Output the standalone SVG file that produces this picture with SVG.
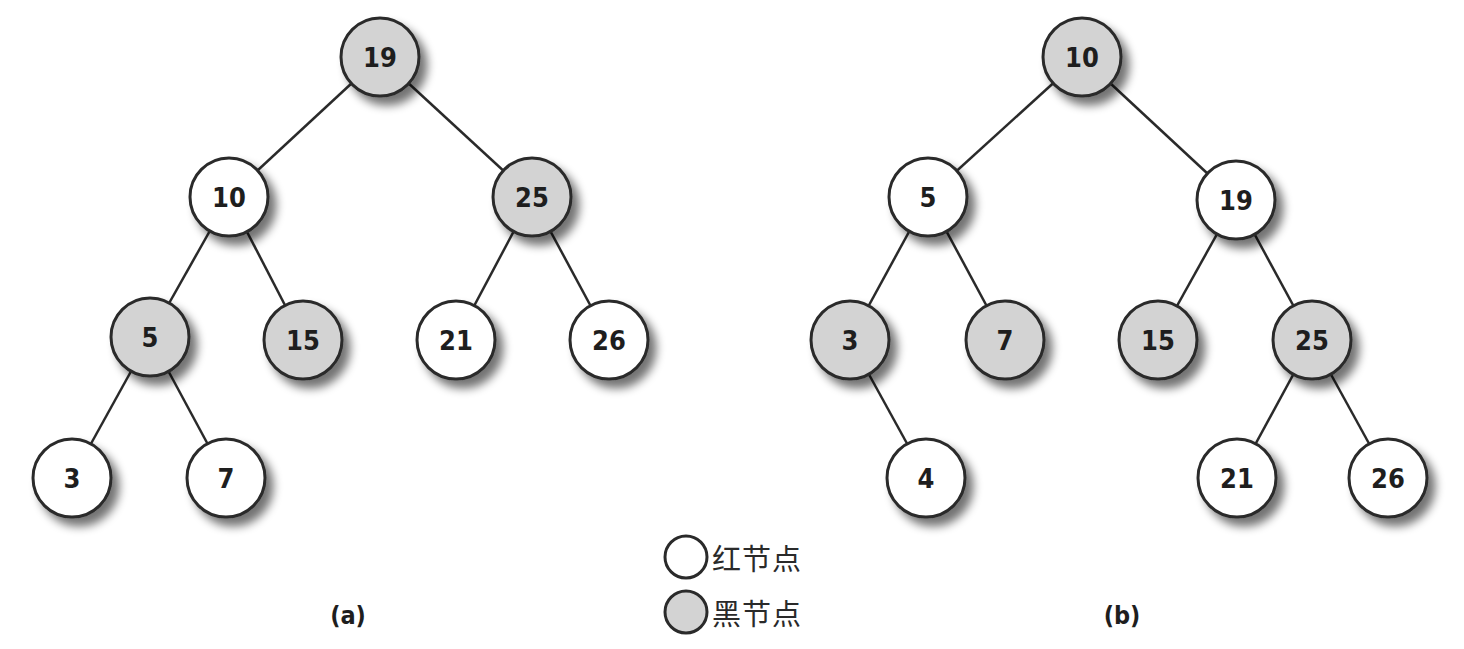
<svg xmlns="http://www.w3.org/2000/svg" width="1464" height="649" viewBox="0 0 1464 649">
<defs>
<filter id="sh" x="-30%" y="-30%" width="170%" height="170%">
<feGaussianBlur in="SourceAlpha" stdDeviation="5"/>
<feOffset dx="7" dy="8" result="b"/>
<feComponentTransfer><feFuncA type="linear" slope="0.55"/></feComponentTransfer>
<feMerge><feMergeNode/><feMergeNode in="SourceGraphic"/></feMerge>
</filter>
</defs>
<style>
.e{stroke:#2a2a2a;stroke-width:2.5;fill:none}
.n circle{stroke:#2a2a2a;stroke-width:3;filter:url(#sh)}
.r circle{fill:#ffffff}
.b circle{fill:#d3d3d3}
.n text{font-family:"Liberation Sans Narrow","DejaVu Sans Condensed","DejaVu Sans",sans-serif;font-weight:bold;font-size:27px;fill:#1e1e1e;text-anchor:middle;dominant-baseline:central}
.lbl{font-family:"Liberation Sans Narrow","DejaVu Sans Condensed","DejaVu Sans",sans-serif;font-weight:bold;font-size:25px;fill:#1e1e1e;text-anchor:middle}
.lg circle{stroke:#2a2a2a;stroke-width:3}
.lg text{font-family:"Noto Sans CJK SC",sans-serif;font-size:29px;fill:#2a2a2a;dominant-baseline:central;letter-spacing:1px}
</style>
<g id="connectors">
<line class="e" x1="380" y1="57" x2="229" y2="197"/>
<line class="e" x1="380" y1="57" x2="532" y2="197"/>
<line class="e" x1="229" y1="197" x2="150" y2="337"/>
<line class="e" x1="229" y1="197" x2="303" y2="340"/>
<line class="e" x1="532" y1="197" x2="456" y2="340"/>
<line class="e" x1="532" y1="197" x2="609" y2="340"/>
<line class="e" x1="150" y1="337" x2="72" y2="478"/>
<line class="e" x1="150" y1="337" x2="226" y2="478"/>
<line class="e" x1="1082" y1="57" x2="928" y2="197"/>
<line class="e" x1="1082" y1="57" x2="1236" y2="200"/>
<line class="e" x1="928" y1="197" x2="850" y2="340"/>
<line class="e" x1="928" y1="197" x2="1005" y2="340"/>
<line class="e" x1="1236" y1="200" x2="1158" y2="340"/>
<line class="e" x1="1236" y1="200" x2="1312" y2="340"/>
<line class="e" x1="850" y1="340" x2="926" y2="478"/>
<line class="e" x1="1312" y1="340" x2="1237" y2="478"/>
<line class="e" x1="1312" y1="340" x2="1388" y2="478"/>
</g>
<g id="a19" class="n b"><circle cx="380" cy="57" r="39"/><text x="380" y="57">19</text></g>
<g id="a10" class="n r"><circle cx="229" cy="197" r="39"/><text x="229" y="197">10</text></g>
<g id="a25" class="n b"><circle cx="532" cy="197" r="39"/><text x="532" y="197">25</text></g>
<g id="a5" class="n b"><circle cx="150" cy="337" r="39"/><text x="150" y="337">5</text></g>
<g id="a15" class="n b"><circle cx="303" cy="340" r="39"/><text x="303" y="340">15</text></g>
<g id="a21" class="n r"><circle cx="456" cy="340" r="39"/><text x="456" y="340">21</text></g>
<g id="a26" class="n r"><circle cx="609" cy="340" r="39"/><text x="609" y="340">26</text></g>
<g id="a3" class="n r"><circle cx="72" cy="478" r="39"/><text x="72" y="478">3</text></g>
<g id="a7" class="n r"><circle cx="226" cy="478" r="39"/><text x="226" y="478">7</text></g>
<g id="b10" class="n b"><circle cx="1082" cy="57" r="39"/><text x="1082" y="57">10</text></g>
<g id="b5" class="n r"><circle cx="928" cy="197" r="39"/><text x="928" y="197">5</text></g>
<g id="b19" class="n r"><circle cx="1236" cy="200" r="39"/><text x="1236" y="200">19</text></g>
<g id="b3" class="n b"><circle cx="850" cy="340" r="39"/><text x="850" y="340">3</text></g>
<g id="b7" class="n b"><circle cx="1005" cy="340" r="39"/><text x="1005" y="340">7</text></g>
<g id="b15" class="n b"><circle cx="1158" cy="340" r="39"/><text x="1158" y="340">15</text></g>
<g id="b25" class="n b"><circle cx="1312" cy="340" r="39"/><text x="1312" y="340">25</text></g>
<g id="b4" class="n r"><circle cx="926" cy="478" r="39"/><text x="926" y="478">4</text></g>
<g id="b21" class="n r"><circle cx="1237" cy="478" r="39"/><text x="1237" y="478">21</text></g>
<g id="b26" class="n r"><circle cx="1388" cy="478" r="39"/><text x="1388" y="478">26</text></g>
<text class="lbl" x="348" y="624">(a)</text>
<text class="lbl" x="1122" y="624">(b)</text>
<g id="legend" class="lg">
<circle cx="686" cy="557" r="21" fill="#ffffff"/>
<text x="712" y="557">红节点</text>
<circle cx="686" cy="612" r="21" fill="#d3d3d3"/>
<text x="712" y="612">黑节点</text>
</g>
</svg>
